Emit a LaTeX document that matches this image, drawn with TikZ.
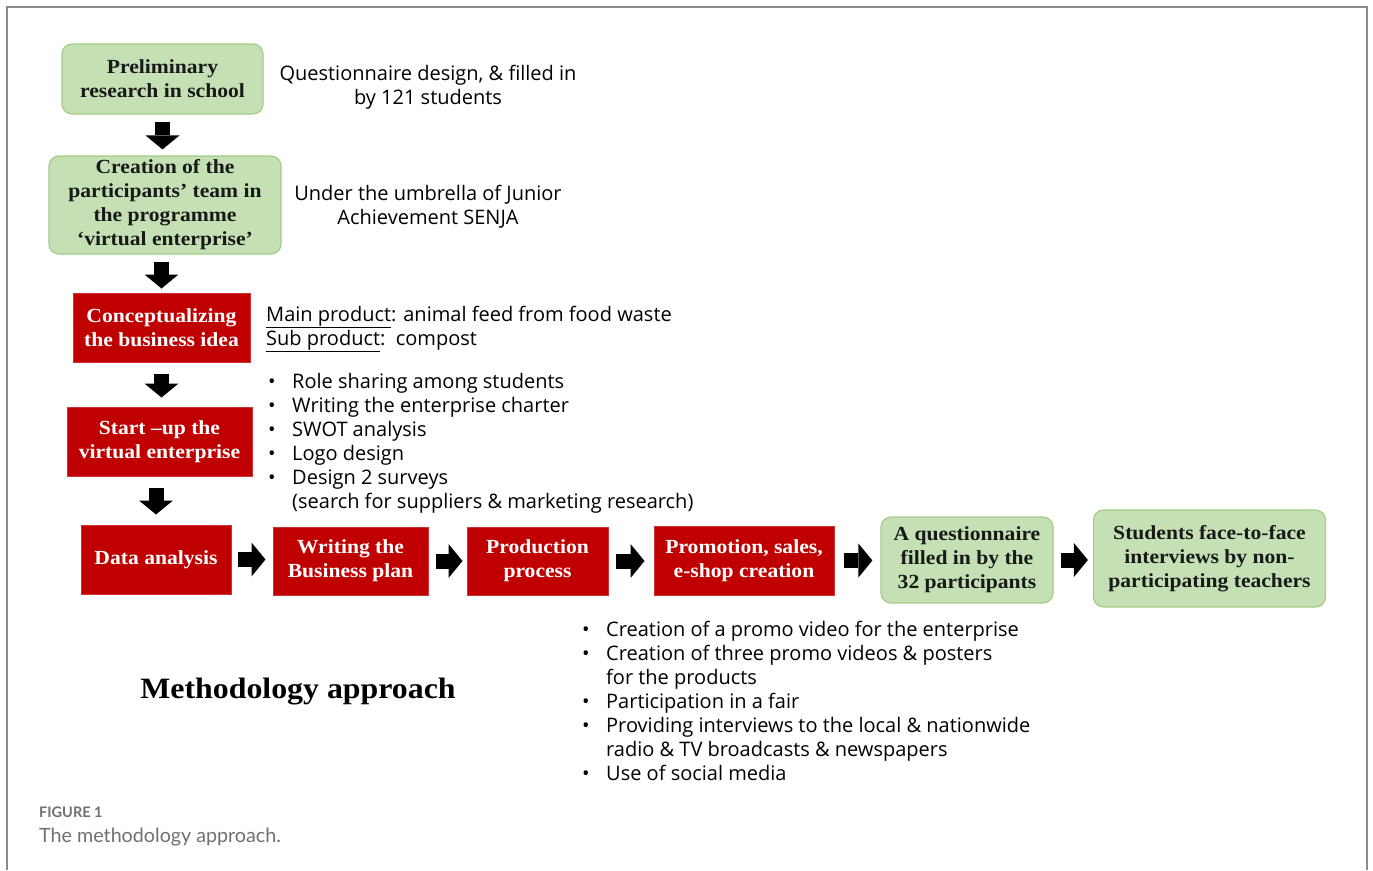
\documentclass[tikz,border=0pt]{standalone}
\usepackage{fontspec}
\setmainfont{Liberation Serif}
\newfontfamily\boxfont[FakeStretch=1.08]{Liberation Serif}
\newfontfamily\anno{Open Sans}
\newfontfamily\capfont{Lato}
\usetikzlibrary{arrows.meta,calc}
\definecolor{boxgreen}{HTML}{C5E0B4}
\definecolor{boxgreenline}{HTML}{A3CC87}
\definecolor{boxred}{HTML}{C00000}
\definecolor{framegray}{HTML}{8C8C8C}
\definecolor{capgray}{HTML}{707070}

\begin{document}
\begin{tikzpicture}[x=1pt,y=-1pt,
  greenbox/.style={draw=boxgreenline, line width=1.2pt, fill=boxgreen,
    rounded corners=10pt, align=center, inner sep=0pt,
    font=\boxfont\bfseries\fontsize{20}{24}\selectfont, text=black!90},
  redbox/.style={draw=boxred!80!white, line width=1pt, fill=boxred,
    align=center, inner sep=0pt,
    font=\boxfont\bfseries\fontsize{20}{24}\selectfont, text=white},
  blockarrow/.style={line width=15pt,
    -{Triangle[width=34pt,length=14pt,line width=0pt]}},
  note/.style={inner sep=0pt, font=\anno\fontsize{20}{24}\selectfont},
  bul/.style={note, anchor=north west, align=left},
]
\useasboundingbox (0,0) rectangle (1373,870);

% outer panel frame (open at the bottom)
\draw[framegray, line width=1.6pt] (7,870) -- (7,7) -- (1367,7) -- (1367,870);

% vertical chain of stages
\node[greenbox, minimum width=201pt, minimum height=70pt] (prelim) at (162.5,79)
  {Preliminary\\research in school};
\node[greenbox, minimum width=232pt, minimum height=98pt] (team) at (165,205)
  {Creation of the\\participants’ team in\\the programme\\‘virtual enterprise’};
\node[redbox, minimum width=177pt, minimum height=69pt] (concept) at (161.5,327.5)
  {Conceptualizing\\the business idea};
\node[redbox, minimum width=185pt, minimum height=69pt] (startup) at (159.5,441.5)
  {Start –up the\\virtual enterprise};

% horizontal chain of stages
\node[redbox, minimum width=150pt, minimum height=69pt] (data) at (156,559.5)
  {Data analysis};
\node[redbox, minimum width=155pt, minimum height=68pt] (plan) at (350.5,561)
  {Writing the\\Business plan};
\node[redbox, minimum width=141pt, minimum height=68pt] (prod) at (537.5,561)
  {Production\\process};
\node[redbox, minimum width=180pt, minimum height=69pt] (promo) at (744,560.5)
  {Promotion, sales,\\e-shop creation};
\node[greenbox, minimum width=172pt, minimum height=86pt] (quest) at (967,560)
  {A questionnaire\\filled in by the\\32 participants};
\node[greenbox, minimum width=232pt, minimum height=97pt] (interv) at (1209.5,558.5)
  {Students face-to-face\\interviews by non-\\participating teachers};

% block arrows
\draw[blockarrow, shorten <=7pt, shorten >=6pt] (prelim.south) -- (prelim.south |- team.north);
\draw[blockarrow, shorten <=7pt, shorten >=4pt] (concept.north |- team.south) -- (concept.north);
\draw[blockarrow, shorten <=11pt, shorten >=9pt] (concept.south) -- (concept.south |- startup.north);
\draw[blockarrow, shorten <=11pt, shorten >=10pt] (data.north |- startup.south) -- (data.north);
\draw[blockarrow, shorten <=6pt, shorten >=7pt] (data.east) -- (data.east -| plan.west);
\draw[blockarrow, shorten <=7pt, shorten >=4pt] (plan.east) -- (plan.east -| prod.west);
\draw[blockarrow, shorten <=7pt, shorten >=9pt] (prod.east) -- (prod.east -| promo.west);
\draw[blockarrow, shorten <=9pt, shorten >=8pt] (promo.east) -- (promo.east -| quest.west);
\draw[blockarrow, shorten <=7pt, shorten >=5pt] (quest.east) -- (quest.east -| interv.west);

% side notes
\node[note, anchor=north, align=center] (n1) at (428,64.5)
  {Questionnaire design, \& filled in\\by 121 students};
\node[note, anchor=north, align=center] (n2) at (428,184.5)
  {Under the umbrella of Junior\\Achievement SENJA};
\node[bul] (n3) at (266,305.5)
  {\underline{Main product}: animal feed from food waste\\
   \underline{Sub product}:\ \ compost};
\node[bul] (n4) at (268,373.5)
  {\makebox[24pt][l]{\textbullet}Role sharing among students\\
   \makebox[24pt][l]{\textbullet}Writing the enterprise charter\\
   \makebox[24pt][l]{\textbullet}SWOT analysis\\
   \makebox[24pt][l]{\textbullet}Logo design\\
   \makebox[24pt][l]{\textbullet}Design 2 surveys\\
   \hspace*{24pt}(search for suppliers \& marketing research)};
\node[bul] (n5) at (582,620.5)
  {\makebox[24pt][l]{\textbullet}Creation of a promo video for the enterprise\\
   \makebox[24pt][l]{\textbullet}Creation of three promo videos \& posters\\
   \hspace*{24pt}for the products\\
   \makebox[24pt][l]{\textbullet}Participation in a fair\\
   \makebox[24pt][l]{\textbullet}Providing interviews to the local \& nationwide\\
   \hspace*{24pt}radio \& TV broadcasts \& newspapers\\
   \makebox[24pt][l]{\textbullet}Use of social media};

% title
\node[inner sep=0pt, anchor=base, font=\boxfont\bfseries\fontsize{29.5}{34}\selectfont] (title)
  at (298,698) {Methodology approach};

% caption
\node[inner sep=0pt, anchor=base west, text=capgray,
  font=\capfont\bfseries\fontsize{14.5}{16}\selectfont] (fig) at (39,817) {FIGURE 1};
\node[inner sep=0pt, anchor=base west, text=capgray,
  font=\capfont\fontsize{19.7}{22}\selectfont] (cap) at (39,842) {The methodology approach.};
\end{tikzpicture}
\end{document}
